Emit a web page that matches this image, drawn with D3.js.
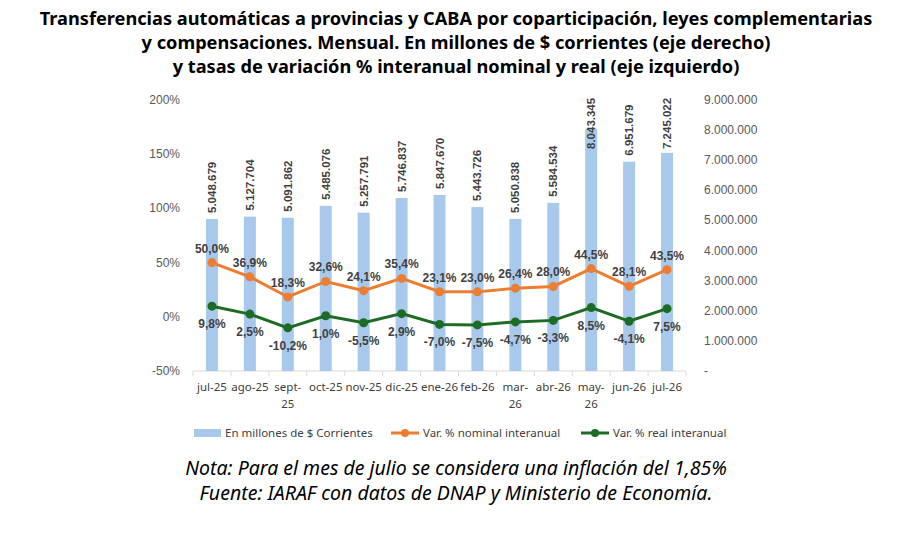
<!DOCTYPE html>
<html><head><meta charset="utf-8">
<script src="https://cdn.jsdelivr.net/npm/d3@7"></script>
<style>body{margin:0;background:#fff;font-family:"Liberation Sans",Arial,sans-serif}
.wide{font-family:"Noto Sans","Open Sans",sans-serif}</style>
</head><body><div id="chart"></div>
<script>
const MONTHS = ["jul-25","ago-25","sept-25","oct-25","nov-25","dic-25","ene-26","feb-26","mar-26","abr-26","may-26","jun-26","jul-26"];
const AMOUNTS = [5048679,5127704,5091862,5485076,5257791,5746837,5847670,5443726,5050838,5584534,8043345,6951679,7245022];
const NOMINAL = [50.0,36.9,18.3,32.6,24.1,35.4,23.1,23.0,26.4,28.0,44.5,28.1,43.5];
const REAL = [9.8,2.5,-10.2,1.0,-5.5,2.9,-7.0,-7.5,-4.7,-3.3,8.5,-4.1,7.5];
const LEFT_TICKS = [-50,0,50,100,150,200];
const RIGHT_TICKS = [0,1e6,2e6,3e6,4e6,5e6,6e6,7e6,8e6,9e6];

const W = 915, H = 535;
const svg = d3.select("#chart").append("svg").attr("width", W).attr("height", H);
const fmtThousands = d3.formatLocale({decimal: ",", thousands: ".", grouping: [3], currency: ["$", ""]}).format(",.0f");
const pct = (v) => v.toFixed(1).replace(".", ",") + "%";

const x = d3.scaleBand().domain(MONTHS).range([193, 686]);
const yL = d3.scaleLinear().domain([-50, 200]).range([371, 100]);
const yR = d3.scaleLinear().domain([0, 9e6]).range([371, 100]);
const cx = (i) => x(MONTHS[i]) + x.bandwidth() / 2;

// title
const title = ["Transferencias automáticas a provincias y CABA por coparticipación, leyes complementarias",
  "y compensaciones. Mensual. En millones de $ corrientes (eje derecho)",
  "y tasas de variación % interanual nominal y real (eje izquierdo)"];
svg.selectAll(".title").data(title).join("text").attr("class", "wide")
  .attr("x", 456).attr("y", (d, i) => 25 + i * 24)
  .attr("text-anchor", "middle").attr("font-weight", "bold").attr("font-size", 18.2).attr("fill", "#000")
  .text((d) => d);

// axes labels
svg.selectAll(".lt").data(LEFT_TICKS).join("text")
  .attr("x", 180).attr("y", (d) => yL(d) + 4).attr("text-anchor", "end")
  .attr("font-size", 12).attr("fill", "#595959").text((d) => d + "%");
svg.selectAll(".rt").data(RIGHT_TICKS).join("text")
  .attr("x", 704).attr("y", (d) => yR(d) + 4)
  .attr("font-size", 12).attr("fill", "#595959").text((d) => d === 0 ? "-" : fmtThousands(d));

// x axis line and ticks
svg.append("line").attr("x1", 193).attr("x2", 686).attr("y1", 371).attr("y2", 371).attr("stroke", "#d9d9d9");
svg.selectAll(".xt").data(d3.range(MONTHS.length + 1)).join("line")
  .attr("x1", (i) => 193 + i * x.step()).attr("x2", (i) => 193 + i * x.step())
  .attr("y1", 371).attr("y2", 376).attr("stroke", "#d9d9d9");

// bars
const bw = 12;
svg.selectAll(".bar").data(AMOUNTS).join("rect")
  .attr("x", (d, i) => cx(i) - bw / 2).attr("width", bw)
  .attr("y", (d) => yR(d)).attr("height", (d) => 371 - yR(d)).attr("fill", "#a9c9ec");
// labels sit above the bar, but are kept inside the plot (may-26 overlaps its bar)
svg.selectAll(".bl").data(AMOUNTS).join("text")
  .attr("transform", (d, i) => `translate(${cx(i) + 4},${Math.max(yR(d) - 6, 149)}) rotate(-90)`)
  .attr("font-size", 11.5).attr("font-weight", "bold").attr("fill", "#404040").text((d) => fmtThousands(d));

// x labels
svg.selectAll(".xl").data(MONTHS).join("text").attr("class", "wide")
  .attr("x", (d) => x(d) + x.bandwidth() / 2).attr("y", 391)
  .attr("text-anchor", "middle").attr("font-size", 11.5).attr("fill", "#404040")
  .each(function (d) {
    const parts = (d.startsWith("sept") || d.startsWith("mar") || d.startsWith("may")) ? [d.split("-")[0] + "-", d.split("-")[1]] : [d];
    d3.select(this).selectAll("tspan").data(parts).join("tspan")
      .attr("x", x(d) + x.bandwidth() / 2).attr("dy", (p, i) => i ? 17 : 0).text((p) => p);
  });

// lines
const line = d3.line().x((d, i) => cx(i)).y((d) => yL(d));
[[NOMINAL, "#ed7d31", -10], [REAL, "#1e6b25", 22]].forEach(([data, col, off]) => {
  svg.append("path").datum(data).attr("d", line).attr("fill", "none").attr("stroke", col).attr("stroke-width", 3);
  svg.append("g").selectAll("circle").data(data).join("circle")
    .attr("cx", (d, i) => cx(i)).attr("cy", (d) => yL(d)).attr("r", 4.5).attr("fill", col);
  svg.append("g").selectAll("text").data(data).join("text")
    .attr("x", (d, i) => cx(i)).attr("y", (d) => yL(d) + off).attr("text-anchor", "middle")
    .attr("font-size", 12).attr("font-weight", "bold").attr("fill", "#404040").text(pct);
});

// legend
const lg = svg.append("g").attr("transform", "translate(0,433)").attr("class", "wide");
lg.append("rect").attr("x", 194).attr("y", -4).attr("width", 27).attr("height", 8).attr("fill", "#a9c9ec");
lg.append("text").attr("x", 225).attr("y", 4).attr("font-size", 11.5).attr("fill", "#404040").text("En millones de $ Corrientes");
[[391, "#ed7d31", "Var. % nominal interanual"], [581, "#1e6b25", "Var. % real interanual"]].forEach(([lx, col, t]) => {
  lg.append("line").attr("x1", lx).attr("x2", lx + 28).attr("stroke", col).attr("stroke-width", 3);
  lg.append("circle").attr("cx", lx + 14).attr("r", 4).attr("fill", col);
  lg.append("text").attr("x", lx + 32).attr("y", 4).attr("font-size", 11.5).attr("fill", "#404040").text(t);
});

// notes
["Nota: Para el mes de julio se considera una inflación del 1,85%", "Fuente: IARAF con datos de DNAP y Ministerio de Economía."]
  .forEach((t, i) => svg.append("text").attr("class", "wide").attr("x", 456).attr("y", 475 + i * 25).attr("text-anchor", "middle")
    .attr("font-style", "italic").attr("font-size", 19.5).attr("fill", "#000").text(t));
</script></body></html>
